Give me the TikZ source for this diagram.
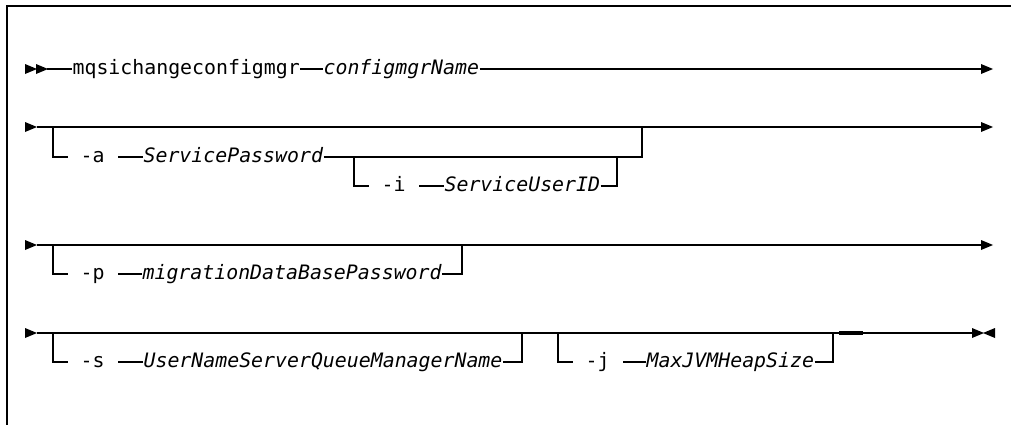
\documentclass[tikz,border=0pt]{standalone}
\usepackage{fontspec}
\setmonofont{DejaVu Sans Mono}
\def\rtip(#1,#2){\fill (#1,#2) ++(0,-5) -- ++(12,5) -- ++(-12,5) -- cycle;}
\def\ltip(#1,#2){\fill (#1,#2) ++(12,-5) -- ++(-12,5) -- ++(12,5) -- cycle;}

\begin{document}
\fontsize{14.9pt}{18pt}\selectfont\ttfamily
\begin{tikzpicture}[x=0.75pt,y=-0.75pt,line width=0.9pt,
		kwd/.style={inner sep=0pt,anchor=mid west,font=\fontsize{14.9pt}{18pt}\selectfont\ttfamily},
		parm/.style={kwd,font=\fontsize{14.9pt}{18pt}\selectfont\ttfamily\itshape}]
				\useasboundingbox (0,0) rectangle (1011,425);
				\draw[line width=0.8pt] (7,425) -- (7,6) -- (1011,6);
				
				\rtip(25,69) \rtip(36,69)
				\node[kwd] (cmd) at (72,69) {mqsichangeconfigmgr};
				\node[parm] (cfgname) at (323,69) {configmgrName};
				\draw (47,69) -- (cmd.mid west);
				\draw (cmd.mid east) -- (cfgname.mid west);
				\draw (cfgname.mid east) -- (981,69);
				\rtip(981,69)
				
				\rtip(25,127)
				\draw (37,127) -- (981,127);
				\rtip(981,127)
				\node[kwd] (optA) at (80,157) {-a};
				\node[parm] (svcpw) at (143,157) {ServicePassword};
				\draw (53,127) |- (68,157);
				\draw (svcpw.mid west) -- ++(-25,0);
				\draw (svcpw.mid east) -| (642,127);
				\node[kwd] (optI) at (381,186) {-i};
				\node[parm] (svcuid) at (444,186) {ServiceUserID};
				\draw (354,157) |- (369,186);
				\draw (svcuid.mid west) -- ++(-25,0);
				\draw (svcuid.mid east) -| (617,157);
				
				\rtip(25,245)
				\draw (37,245) -- (981,245);
				\rtip(981,245)
				\node[kwd] (optP) at (80,274) {-p};
				\node[parm] (migpw) at (142,274) {migrationDataBasePassword};
				\draw (53,245) |- (68,274);
				\draw (migpw.mid west) -- ++(-24,0);
				\draw (migpw.mid east) -| (462,245);
				
				\rtip(25,333)
				\draw (37,333) -- (972,333);
				\rtip(972,333)
				\ltip(983,333)
				\node[kwd] (optS) at (80,362) {-s};
				\node[parm] (unsqm) at (143,362) {UserNameServerQueueManagerName};
				\draw (53,333) |- (68,362);
				\draw (unsqm.mid west) -- ++(-25,0);
				\draw (unsqm.mid east) -| (522,333);
				\node[kwd] (optJ) at (585,362) {-j};
				\node[parm] (maxjvm) at (646,362) {MaxJVMHeapSize};
				\draw (558,333) |- (573,362);
				\draw (maxjvm.mid west) -- ++(-23,0);
				\draw (maxjvm.mid east) -| (833,333);
				\draw[line width=2.4pt] (839,333) -- (863,333);
			\end{tikzpicture}
\end{document}
